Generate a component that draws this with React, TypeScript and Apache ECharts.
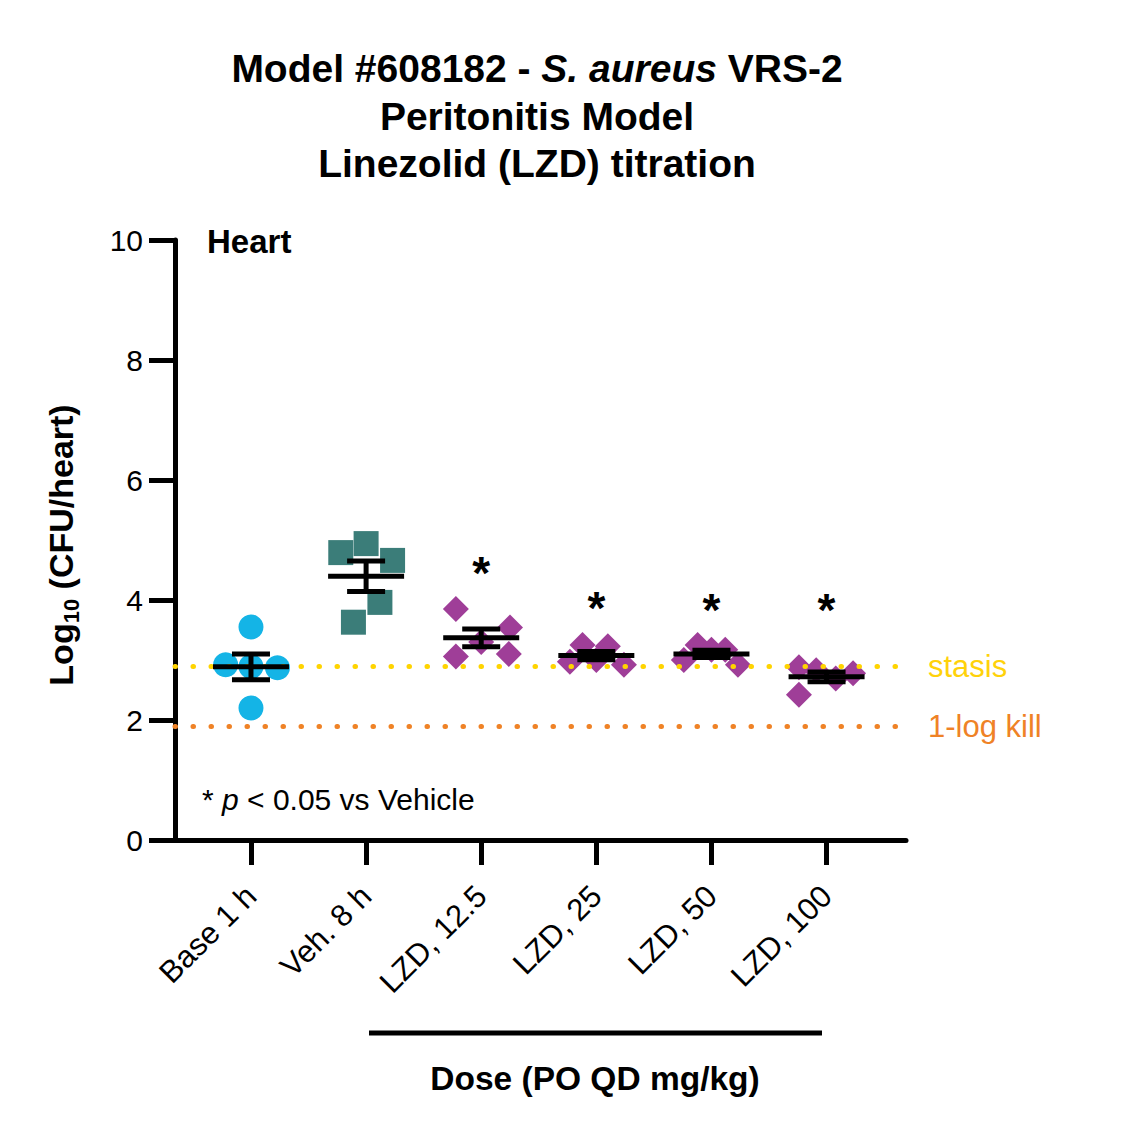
import React, { useEffect, useRef } from "react";
import * as echarts from "echarts";

const categories = ["Base 1 h", "Veh. 8 h", "LZD, 12.5", "LZD, 25", "LZD, 50", "LZD, 100"];
const tickValues = [0, 1, 2, 3, 4, 5];
const yTicks = { min: 0, max: 10, interval: 2 };

const baseValues = [3.55, 2.92, 2.89, 2.87, 2.2];
const baseJitter = [0, -0.22, 0, 0.23, 0];
const vehValues = [4.79, 4.94, 4.66, 3.96, 3.63];
const vehJitter = [-0.22, 0, 0.23, 0.12, -0.11];
const lzd125Values = [3.85, 3.54, 3.06, 3.1, 3.3];
const lzd125Jitter = [-0.22, 0.25, -0.22, 0.24, 0];
const lzd25Values = [3.25, 3.23, 2.97, 3.0, 2.92];
const lzd25Jitter = [-0.12, 0.1, -0.23, 0, 0.24];
const lzd50Values = [3.25, 3.17, 3.17, 3.0, 2.92];
const lzd50Jitter = [-0.12, 0, 0.12, -0.24, 0.23];
const lzd100Values = [2.88, 2.83, 2.78, 2.69, 2.42];
const lzd100Jitter = [-0.24, -0.09, 0.23, 0.08, -0.24];

const sigGroups = [2, 3, 4, 5];
const sigLevels = [4.45, 3.86, 3.84, 3.84];

const stasisLevel = 2.89;
const oneLogKillLevel = 1.89;

const FONT = "'Liberation Sans', Arial, Helvetica, sans-serif";

function meanSem(v: number[]) {
  const n = v.length;
  const m = v.reduce((a, b) => a + b, 0) / n;
  const sd = Math.sqrt(v.reduce((a, b) => a + (b - m) * (b - m), 0) / (n - 1));
  return [m, sd / Math.sqrt(n)];
}

export default function App() {
  const ref = useRef<HTMLDivElement>(null);
  useEffect(() => {
    if (!ref.current) return;
    const chart = echarts.init(ref.current, undefined, { renderer: "svg" });

    const groups = [
      { values: baseValues, jitter: baseJitter, symbol: "circle", color: "#14B4E6", size: 25 },
      { values: vehValues, jitter: vehJitter, symbol: "rect", color: "#3B7D79", size: 25 },
      { values: lzd125Values, jitter: lzd125Jitter, symbol: "diamond", color: "#9F3E98", size: 26 },
      { values: lzd25Values, jitter: lzd25Jitter, symbol: "diamond", color: "#9F3E98", size: 26 },
      { values: lzd50Values, jitter: lzd50Jitter, symbol: "diamond", color: "#9F3E98", size: 26 },
      { values: lzd100Values, jitter: lzd100Jitter, symbol: "diamond", color: "#9F3E98", size: 26 },
    ];

    const scatterSeries = groups.map((g, gi) => ({
      type: "scatter",
      symbol: g.symbol,
      symbolSize: g.size,
      itemStyle: { color: g.color, opacity: 1 },
      z: 2,
      silent: true,
      data: g.values.map((v, i) => [gi + g.jitter[i], v]),
    }));

    const errData = groups.map((g, gi) => {
      const [m, s] = meanSem(g.values);
      return [gi, m, s];
    });

    const lw = 5;
    const option: any = {
      animation: false,
      backgroundColor: "#ffffff",
      textStyle: { fontFamily: FONT },
      grid: { left: 175, right: 238, top: 240, bottom: 301, containLabel: false },
      xAxis: {
        type: "value",
        min: -0.66,
        max: 5.69,
        splitLine: { show: false },
        axisLine: { show: true, onZero: false, lineStyle: { color: "#000", width: lw } },
        axisTick: { show: true, customValues: tickValues, length: 25, lineStyle: { color: "#000", width: lw } },
        axisLabel: {
          show: true,
          customValues: tickValues,
          rotate: 45,
          margin: 51,
          fontSize: 31,
          color: "#000",
          fontFamily: FONT,
          formatter: (v: number) => categories[Math.round(v)] ?? "",
        },
      },
      yAxis: {
        type: "value",
        min: yTicks.min,
        max: yTicks.max,
        interval: yTicks.interval,
        splitLine: { show: false },
        axisLine: { show: true, onZero: false, lineStyle: { color: "#000", width: lw } },
        axisTick: { show: true, length: 26, lineStyle: { color: "#000", width: lw } },
        axisLabel: { fontSize: 30, color: "#000", margin: 32, fontFamily: FONT },
        name: "Log{sub|10} (CFU/heart)",
        nameLocation: "middle",
        nameRotate: 90,
        nameGap: 93,
        nameTextStyle: {
          fontSize: 34,
          fontWeight: "bold",
          color: "#000",
          fontFamily: FONT,
          lineHeight: 42,
          padding: [0, 10, 0, 0],
          rich: {
            sub: { fontSize: 22, fontWeight: "bold", color: "#000", fontFamily: FONT, lineHeight: 23, verticalAlign: "bottom" },
          },
        },
      },
      series: [
        ...scatterSeries,
        {
          type: "custom",
          z: 5,
          silent: true,
          data: errData,
          renderItem: (params: any, api: any) => {
            const x = api.value(0);
            const m = api.value(1);
            const s = api.value(2);
            const c = api.coord([x, m]);
            const t = api.coord([x, m + s]);
            const b = api.coord([x, m - s]);
            const st = { stroke: "#000", lineWidth: lw };
            return {
              type: "group",
              children: [
                { type: "line", shape: { x1: c[0] - 38, y1: c[1], x2: c[0] + 38, y2: c[1] }, style: st },
                { type: "line", shape: { x1: c[0], y1: t[1], x2: c[0], y2: b[1] }, style: st },
                { type: "line", shape: { x1: c[0] - 19, y1: t[1], x2: c[0] + 19, y2: t[1] }, style: st },
                { type: "line", shape: { x1: c[0] - 19, y1: b[1], x2: c[0] + 19, y2: b[1] }, style: st },
              ],
            };
          },
        },
        {
          type: "scatter",
          z: 6,
          silent: true,
          symbolSize: 1,
          itemStyle: { color: "rgba(0,0,0,0)" },
          data: sigGroups.map((g, i) => [g, sigLevels[i]]),
          label: {
            show: true,
            position: "inside",
            formatter: "*",
            fontSize: 46,
            fontWeight: "bold",
            color: "#000",
            textBorderWidth: 0,
            opacity: 1,
            fontFamily: FONT,
          },
        },
        {
          type: "scatter",
          z: 10,
          silent: true,
          data: [],
          markLine: {
            silent: true,
            symbol: ["none", "none"],
            animation: false,
            data: [
              {
                yAxis: stasisLevel,
                lineStyle: { color: "#FFD400", width: 5, type: [0.5, 17.5], cap: "round" },
                label: {
                  show: true,
                  position: "end",
                  distance: 22,
                  formatter: "stasis",
                  color: "#FFD20A",
                  fontSize: 31,
                  fontFamily: FONT,
                },
              },
              {
                yAxis: oneLogKillLevel,
                lineStyle: { color: "#EF8226", width: 5, type: [0.5, 17.5], cap: "round" },
                label: {
                  show: true,
                  position: "end",
                  distance: 22,
                  formatter: "1-log kill",
                  color: "#EF8226",
                  fontSize: 31,
                  fontFamily: FONT,
                },
              },
            ],
          },
        },
      ],
      graphic: [
        {
          type: "text",
          x: 537,
          y: 68,
          style: {
            text: "Model #608182 - {i|S. aureus} VRS-2",
            align: "center",
            verticalAlign: "middle",
            fontSize: 39,
            fontWeight: "bold",
            fontFamily: FONT,
            fill: "#000",
            rich: { i: { fontSize: 39, fontWeight: "bold", fontStyle: "italic", fontFamily: FONT, fill: "#000" } },
          },
        },
        {
          type: "text",
          x: 537,
          y: 116,
          style: { text: "Peritonitis Model", align: "center", verticalAlign: "middle", fontSize: 39, fontWeight: "bold", fontFamily: FONT, fill: "#000" },
        },
        {
          type: "text",
          x: 537,
          y: 163,
          style: { text: "Linezolid (LZD) titration", align: "center", verticalAlign: "middle", fontSize: 39, fontWeight: "bold", fontFamily: FONT, fill: "#000" },
        },
        {
          type: "text",
          x: 207,
          y: 241,
          style: { text: "Heart", align: "left", verticalAlign: "middle", fontSize: 33, fontWeight: "bold", fontFamily: FONT, fill: "#000" },
        },
        {
          type: "text",
          x: 202,
          y: 799,
          style: {
            text: "* {i|p} < 0.05 vs Vehicle",
            align: "left",
            verticalAlign: "middle",
            fontSize: 30,
            fontFamily: FONT,
            fill: "#000",
            rich: { i: { fontSize: 30, fontStyle: "italic", fontFamily: FONT, fill: "#000" } },
          },
        },
        {
          type: "line",
          shape: { x1: 369, y1: 1033, x2: 822, y2: 1033 },
          style: { stroke: "#000", lineWidth: 5 },
        },
        {
          type: "text",
          x: 595,
          y: 1078,
          style: { text: "Dose (PO QD mg/kg)", align: "center", verticalAlign: "middle", fontSize: 33.5, fontWeight: "bold", fontFamily: FONT, fill: "#000" },
        },
      ],
    };

    chart.setOption(option);
    return () => chart.dispose();
  }, []);

  return (
    <div
      ref={ref}
      style={{ position: "absolute", left: 0, top: 0, width: 1144, height: 1141, background: "#fff" }}
    />
  );
}
